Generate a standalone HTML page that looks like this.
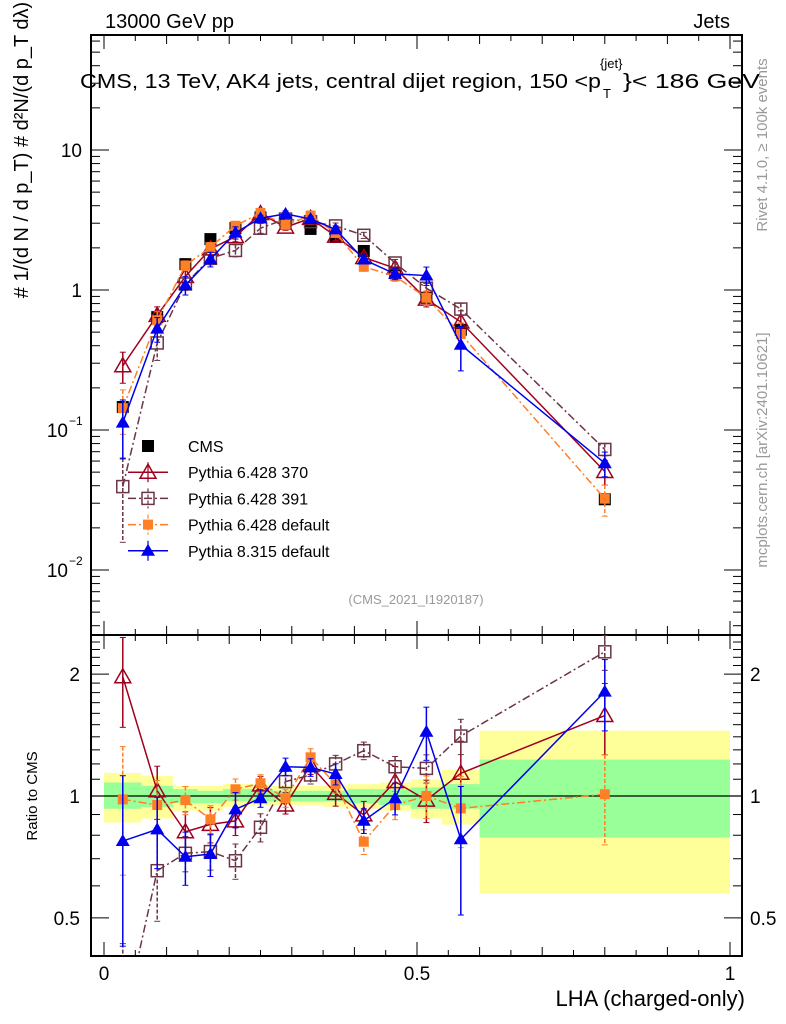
<!DOCTYPE html>
<html><head><meta charset="utf-8"><style>
html,body{margin:0;background:#fff;overflow:hidden;width:786px;height:1024px;}
svg{display:block;font-family:"Liberation Sans",sans-serif;}
</style></head><body>
<svg id="c" width="786" height="1024" xmlns="http://www.w3.org/2000/svg"></svg>
<script>
const centers=[0.03,0.085,0.13,0.17,0.21,0.25,0.29,0.33,0.37,0.415,0.465,0.515,0.57,0.8];
const edges=[0,0.06,0.11,0.15,0.19,0.23,0.27,0.31,0.35,0.39,0.44,0.49,0.54,0.6,1];
const cmsVals=[0.146,0.64,1.53,2.31,2.77,3.3,2.96,2.73,2.39,1.9,1.32,0.88,0.52,0.032];
const yelLo=[0.86,0.88,0.92,0.92,0.94,0.95,0.95,0.95,0.94,0.93,0.92,0.88,0.85,0.575];
const yelHi=[1.14,1.12,1.06,1.06,1.07,1.07,1.06,1.06,1.06,1.07,1.08,1.10,1.16,1.45];
const grnLo=[0.93,0.94,0.96,0.96,0.97,0.97,0.97,0.97,0.97,0.96,0.95,0.93,0.93,0.79];
const grnHi=[1.08,1.06,1.04,1.03,1.04,1.04,1.03,1.03,1.03,1.04,1.04,1.05,1.07,1.23];
const r370=[1.97,1.03,0.816,0.851,0.868,1.065,0.95,1.19,1.015,0.898,1.085,0.977,1.138,1.58];
const e370=[0.25,0.15,0.12,0.1,0.08,0.05,0.05,0.05,0.07,0.08,0.09,0.12,0.2,0.2];
const r391=[0.27,0.654,0.722,0.729,0.692,0.837,1.085,1.127,1.2,1.294,1.181,1.17,1.406,2.27];
const e391=[0.6,0.25,0.1,0.1,0.1,0.08,0.06,0.05,0.05,0.05,0.06,0.08,0.1,0.1];
const rP6=[0.981,0.95,0.977,0.876,1.039,1.075,0.987,1.246,1.07,0.771,0.95,1.0,0.932,1.01];
const eP6=[0.35,0.15,0.08,0.08,0.06,0.05,0.05,0.05,0.05,0.07,0.08,0.12,0.2,0.25];
const rP8=[0.774,0.827,0.708,0.719,0.927,0.987,1.181,1.177,1.133,0.869,0.987,1.441,0.782,1.81];
const eP8=[0.45,0.2,0.15,0.12,0.1,0.05,0.05,0.05,0.06,0.07,0.09,0.15,0.35,0.2];

const NS="http://www.w3.org/2000/svg";const svg=document.getElementById('c');
function el(t,a,p){const e=document.createElementNS(NS,t);for(const k in a)e.setAttribute(k,a[k]);(p||svg).appendChild(e);return e;}
const L=91,R=742,T1=35,B1=635,T2=635,B2=956;
const X=v=>104+626*v;
const Y1=v=>290-140*Math.log10(v);
const Y2=v=>796-405*Math.log10(v);
const defs=el('defs',{});
const c1=el('clipPath',{id:'c1'},defs);el('rect',{x:L,y:T1,width:R-L,height:B1-T1},c1);
const c2=el('clipPath',{id:'c2'},defs);el('rect',{x:L,y:T2,width:R-L,height:B2-T2},c2);
const gb=el('g',{'clip-path':'url(#c2)'});

for(let i=0;i<centers.length;i++){
 const y=el('rect',{x:X(edges[i]),y:Y2(yelHi[i]),width:X(edges[i+1])-X(edges[i]),height:Y2(yelLo[i])-Y2(yelHi[i]),fill:'#ffff99'},gb);
 
}
for(let i=0;i<centers.length;i++){
 const g=el('rect',{x:X(edges[i]),y:Y2(grnHi[i]),width:X(edges[i+1])-X(edges[i]),height:Y2(grnLo[i])-Y2(grnHi[i]),fill:'#99ff99'},gb);
 
}
el('line',{x1:L,x2:R,y1:Y2(1),y2:Y2(1),stroke:'#000','stroke-width':1.2});
for(const [t,b] of [[T1,B1],[T2,B2]]){const f=el('rect',{x:L,y:t,width:R-L,height:b-t,fill:'none',stroke:'#000','stroke-width':2});
 }
for(let k=0;k<=20;k++){const v=k*0.05,x=X(v),len=k%10==0?14:(k%2==0?9:6);
 for(const [t,b] of [[T1,B1],[T2,B2]]){el('line',{x1:x,x2:x,y1:b,y2:b-len,stroke:'#000'});el('line',{x1:x,x2:x,y1:t,y2:t+len,stroke:'#000'});}}
for(let d=-3;d<=1;d++)for(let m=1;m<10;m++){const v=m*Math.pow(10,d),y=Y1(v);if(y<T1||y>B1)continue;const len=m==1?18:9;
 el('line',{x1:L,x2:L+len,y1:y,y2:y,stroke:'#000'});el('line',{x1:R,x2:R-len,y1:y,y2:y,stroke:'#000'});}
for(let v=0.4;v<=2.5;v+=0.1){const y=Y2(v);if(y<T2||y>B2)continue;const r=Math.round(v*10);const len=(r==5||r==10||r==20)?18:9;
 el('line',{x1:L,x2:L+len,y1:y,y2:y,stroke:'#000'});el('line',{x1:R,x2:R-len,y1:y,y2:y,stroke:'#000'});}
function txt(s,a,name){const t=el('text',a);t.textContent=s;return t;}
txt('10',{x:82,y:157,'font-size':19,'text-anchor':'end'},'y-tick-10');
txt('1',{x:82,y:297,'font-size':19,'text-anchor':'end'},'y-tick-1');
txt('10',{x:68,y:437,'font-size':19,'text-anchor':'end'},'y-tick-0.1');
txt('−1',{x:69,y:425,'font-size':12},'y-tick-0.1-exp');
txt('10',{x:68,y:577,'font-size':19,'text-anchor':'end'},'y-tick-0.01');
txt('−2',{x:69,y:565,'font-size':12},'y-tick-0.01-exp');
for(const [v,s] of [[2,'2'],[1,'1'],[0.5,'0.5']]){txt(s,{x:80,y:Y2(v)+7,'font-size':19,'text-anchor':'end'},'ratio-tick-left');txt(s,{x:750,y:Y2(v)+7,'font-size':19},'ratio-tick-right');}
for(const [v,s] of [[0,'0'],[0.5,'0.5'],[1,'1']])txt(s,{x:X(v),y:980,'font-size':19,'text-anchor':'middle'},'x-tick-label');
txt('LHA (charged-only)',{x:745,y:1006,'font-size':22,'text-anchor':'end'},'x-axis-title');
txt('Ratio to CMS',{x:37,y:796,'font-size':15,'text-anchor':'middle',transform:'rotate(-90 37 796)'},'ratio-axis-title');
txt('13000 GeV pp',{x:105,y:28,'font-size':20},'energy-label');
txt('Jets',{x:730,y:28,'font-size':20,'text-anchor':'end'},'process-label');
txt('CMS, 13 TeV, AK4 jets, central dijet region, 150 <p',{x:80,y:88,'font-size':20,textLength:521,lengthAdjust:'spacingAndGlyphs'},'plot-title');
txt('T',{x:603,y:98,'font-size':13},'title-sub');txt('{jet}',{x:600,y:68,'font-size':13},'title-sup');
txt('}< 186 GeV',{x:623,y:88,'font-size':20,textLength:137,lengthAdjust:'spacingAndGlyphs'},'title-end');
txt('(CMS_2021_I1920187)',{x:416,y:604,'font-size':13,fill:'#999','text-anchor':'middle'},'analysis-id');
txt('Rivet 4.1.0, ≥ 100k events',{x:767,y:145,'font-size':15,fill:'#999','text-anchor':'middle',transform:'rotate(-90 767 145)'},'rivet-label');
txt('mcplots.cern.ch [arXiv:2401.10621]',{x:767,y:450,'font-size':15,fill:'#999','text-anchor':'middle',transform:'rotate(-90 767 450)'},'mcplots-label');
txt('# 1/(d N / d p_T) # d²N/(d p_T dλ)',{x:28,y:150,'font-size':20,'text-anchor':'middle',transform:'rotate(-90 28 150)'},'y-axis-title');
const series=[
 {name:'pythia-6-370',r:r370,e:e370,col:'#a0001e',dash:'',mk:'tri-open',label:'Pythia 6.428 370'},
 {name:'pythia-6-391',r:r391,e:e391,col:'#6b3545',dash:'8,3,2,3',mk:'sq-open',label:'Pythia 6.428 391'},
 {name:'pythia-6-default',r:rP6,e:eP6,col:'#ff7f27',dash:'8,3,2,3',mk:'sq-fill',label:'Pythia 6.428 default'},
 {name:'pythia-8-default',r:rP8,e:eP8,col:'#0000ee',dash:'',mk:'tri-fill',label:'Pythia 8.315 default'}];
function marker(g,mk,x,y,col){
 if(mk=='tri-open')el('path',{d:`M${x},${y-8}L${x+8},${y+6}L${x-8},${y+6}Z`,fill:'#fff','fill-opacity':0,stroke:col,'stroke-width':1.5},g);
 else if(mk=='tri-fill')el('path',{d:`M${x},${y-7}L${x+7},${y+5}L${x-7},${y+5}Z`,fill:col},g);
 else if(mk=='sq-open')el('rect',{x:x-6,y:y-6,width:12,height:12,fill:'none',stroke:col,'stroke-width':1.5},g);
 else if(mk=='sq-fill')el('rect',{x:x-5,y:y-5,width:10,height:10,fill:col},g);
 else if(mk=='cms')el('rect',{x:x-6,y:y-6,width:12,height:12,fill:'#000'},g);
}
const gc=el('g',{'clip-path':'url(#c1)'});
cmsVals.forEach((v,i)=>marker(gc,'cms',X(centers[i]),Y1(v)));
for(const s of series){
 for(const [Yf,clip,base,pn] of [[Y1,'c1',cmsVals,'main'],[Y2,'c2',null,'ratio']]){
  const g=el('g',{'clip-path':`url(#${clip})`});
  
  const vals=s.r.map((r,i)=>base?r*base[i]:r);
  el('polyline',{points:vals.map((v,i)=>X(centers[i])+','+Yf(v)).join(' '),fill:'none',stroke:s.col,'stroke-width':1.5,'stroke-dasharray':s.dash},g);
  vals.forEach((v,i)=>{const x=X(centers[i]);const y1=Yf(v*(1+s.e[i])),y2=Yf(Math.max(v*(1-s.e[i]),1e-4));
   el('line',{x1:x,x2:x,y1:y1,y2:y2,stroke:s.col,'stroke-width':1.5,'stroke-dasharray':s.dash?'4,2':''},g);
   el('line',{x1:x-3,x2:x+3,y1:y1,y2:y1,stroke:s.col},g);el('line',{x1:x-3,x2:x+3,y1:y2,y2:y2,stroke:s.col},g);
   marker(g,s.mk,x,Yf(v),s.col);});
 }
}
const lg=el('g',{});
const items=[{mk:'cms',col:'#000',dash:null,label:'CMS'}].concat(series);
items.forEach((it,k)=>{const y=446+k*26.2;const g=el('g',{},lg);
 
 if(it.dash!==null){el('line',{x1:128,x2:168,y1:y,y2:y,stroke:it.col,'stroke-width':1.5,'stroke-dasharray':it.dash},g);
  el('line',{x1:148,x2:148,y1:y-10,y2:y+10,stroke:it.col,'stroke-width':1.2,'stroke-dasharray':it.dash?'4,2':''},g);}
 marker(g,it.mk,148,y,it.col);
 const t=el('text',{x:188,y:y+6,'font-size':16},g);t.textContent=it.label;});
</script>
</body></html>
